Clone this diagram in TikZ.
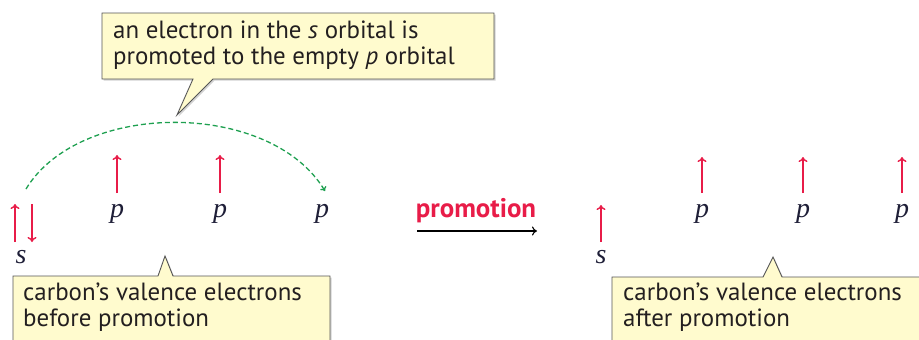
\documentclass[tikz,border=0pt]{standalone}
\usepackage{fontspec}
\setmainfont{PT Sans}
\newfontfamily\orbfont{Liberation Serif}
\usetikzlibrary{arrows.meta,calc,shadows}
\definecolor{ered}{RGB}{232,28,72}
\definecolor{pgreen}{RGB}{30,160,80}
\definecolor{cfill}{RGB}{255,251,206}
\definecolor{cline}{RGB}{85,85,85}
\definecolor{ctext}{RGB}{35,31,32}
\definecolor{olab}{RGB}{30,30,55}
\begin{document}
\begin{tikzpicture}[x=1bp,y=-1bp,
  electron/.style={draw=ered, line width=1.4bp, -{To[length=5bp,width=9bp]}},
  orb/.style={font=\fontsize{28}{28}\selectfont\orbfont\itshape, inner sep=0, text=olab, anchor=base},
  callout/.style={fill=cfill, draw=cline, line width=0.9bp, line join=miter,
    drop shadow={shadow xshift=1.5bp, shadow yshift=-1.5bp, opacity=0.35}},
  calltext/.style={font=\fontsize{25}{27}\selectfont, text=ctext, inner sep=0, anchor=base west},
]
\useasboundingbox (0,0) rectangle (919,339);

% ---- callouts ----
\draw[callout] (102,13) -- (494,13) -- (494,79) -- (213,79) -- (177,115) -- (193,79) -- (102,79) -- cycle;
\node[calltext] (ctop) at (113,38) {\begin{tabular}[t]{@{}l@{}}an electron in the \textit{s} orbital is\\promoted to the empty \textit{p} orbital\end{tabular}};

\draw[callout] (13,276) -- (158,276) -- (165,256) -- (173,276) -- (330,276) -- (330,380) -- (13,380) -- cycle;
\node[calltext] (cleft) at (23,300) {\begin{tabular}[t]{@{}l@{}}carbon’s valence electrons\\before promotion\end{tabular}};

\draw[callout] (612,277) -- (763,277) -- (773,257) -- (782,277) -- (960,277) -- (960,380) -- (612,380) -- cycle;
\node[calltext] (cright) at (623,300) {\begin{tabular}[t]{@{}l@{}}carbon’s valence electrons\\after promotion\end{tabular}};

% ---- before promotion ----
\node[orb] (s1) at (21,263) {s};
\node[orb] (p1) at (117,217) {p};
\node[orb] (p2) at (220,217) {p};
\node[orb] (p3) at (322,217) {p};
\draw[electron] (15,242) -- (15,204);
\draw[electron] (32,204) -- (32,242);
\draw[electron] (117,193) -- (117,155);
\draw[electron] (220,193) -- (220,155);

\coordinate (arcstart) at (26,189);
\coordinate (arcend) at (325,191);
\draw[pgreen, line width=1.3bp, dash pattern=on 5bp off 3bp, -{To[length=4bp,width=7bp]}]
  (arcstart) .. controls (80,100) and (270,100) .. (arcend);

% ---- promotion arrow ----
\node[font=\fontsize{27}{27}\selectfont\bfseries, text=ered, anchor=base, inner sep=0] (prom) at (476,217) {promotion};
\coordinate (pa) at (417,231);
\coordinate (pb) at (537,231);
\draw[line width=1.1bp, -{To[length=5bp,width=9bp]}] (pa) -- (pb);

% ---- after promotion ----
\node[orb] (s2) at (601,263) {s};
\node[orb] (q1) at (702,217) {p};
\node[orb] (q2) at (803,217) {p};
\node[orb] (q3) at (902,217) {p};
\draw[electron] (601,242) -- (601,205);
\draw[electron] (702,193) -- (702,157);
\draw[electron] (803,193) -- (803,157);
\draw[electron] (902,193) -- (902,157);
\end{tikzpicture}
\end{document}
